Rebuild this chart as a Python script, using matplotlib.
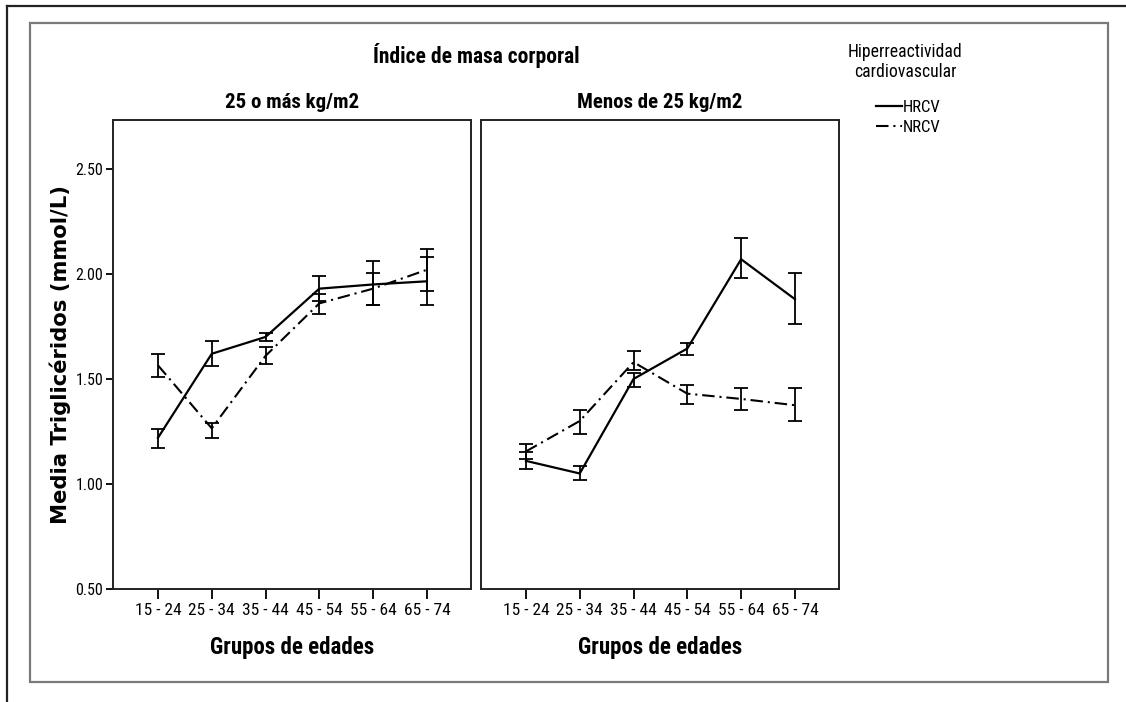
import matplotlib
matplotlib.use("Agg")
import matplotlib.pyplot as plt
from matplotlib import font_manager
from matplotlib.lines import Line2D
from matplotlib.patches import Rectangle

# ---------------- data ----------------
age_groups = ["15 - 24", "25 - 34", "35 - 44", "45 - 54", "55 - 64", "65 - 74"]
panels = ["25 o más kg/m2", "Menos de 25 kg/m2"]
series = ["HRCV", "NRCV"]

# panel 1: 25 o más kg/m2
p1_hrcv_mean = [1.22, 1.62, 1.70, 1.93, 1.95, 1.965]
p1_hrcv_lo = [1.17, 1.56, 1.68, 1.87, 1.85, 1.85]
p1_hrcv_hi = [1.26, 1.68, 1.72, 1.99, 2.06, 2.08]
p1_nrcv_mean = [1.565, 1.265, 1.61, 1.86, 1.93, 2.02]
p1_nrcv_lo = [1.51, 1.22, 1.57, 1.81, 1.85, 1.92]
p1_nrcv_hi = [1.62, 1.29, 1.65, 1.905, 2.005, 2.12]

# panel 2: Menos de 25 kg/m2
p2_hrcv_mean = [1.11, 1.05, 1.50, 1.645, 2.07, 1.88]
p2_hrcv_lo = [1.07, 1.02, 1.46, 1.615, 1.98, 1.76]
p2_hrcv_hi = [1.15, 1.085, 1.53, 1.67, 2.17, 2.005]
p2_nrcv_mean = [1.155, 1.30, 1.58, 1.43, 1.405, 1.375]
p2_nrcv_lo = [1.12, 1.24, 1.545, 1.38, 1.35, 1.30]
p2_nrcv_hi = [1.19, 1.35, 1.635, 1.47, 1.457, 1.457]

y_ticks = [0.50, 1.00, 1.50, 2.00, 2.50]

# ---------------- fonts ----------------
avail = {f.name for f in font_manager.fontManager.ttflist}
narrow = "Roboto"
for cand in ["Liberation Sans Narrow", "DejaVu Sans Condensed", "Roboto Condensed", "Roboto"]:
    if cand in avail:
        narrow = cand
        break
NARROW = [narrow, "DejaVu Sans"]
plt.rcParams["font.family"] = NARROW
plt.rcParams["lines.scale_dashes"] = False

W, H = 1126, 702
fig = plt.figure(figsize=(W / 100, H / 100), dpi=100)
fig.patch.set_facecolor("white")

# frames
fig.add_artist(Rectangle((30 / W, 1 - 682 / H), (1108 - 30) / W, (682 - 23) / H,
                         transform=fig.transFigure, fill=False, ec="#7a7a7a", lw=1.6))
fig.add_artist(Line2D([7 / W, 1.0], [1 - 6 / H, 1 - 6 / H], transform=fig.transFigure,
                      color="#222222", lw=1.6))
fig.add_artist(Line2D([7 / W, 7 / W], [0, 1 - 6 / H], transform=fig.transFigure,
                      color="#222222", lw=1.6))

ax_bottom = 1 - 589 / H
ax_height = (589 - 120) / H
ax_w = (471 - 113) / W
ax1 = fig.add_axes([113 / W, ax_bottom, ax_w, ax_height])
ax2 = fig.add_axes([481 / W, ax_bottom, ax_w, ax_height])

data = [
    (p1_hrcv_mean, p1_hrcv_lo, p1_hrcv_hi, p1_nrcv_mean, p1_nrcv_lo, p1_nrcv_hi),
    (p2_hrcv_mean, p2_hrcv_lo, p2_hrcv_hi, p2_nrcv_mean, p2_nrcv_lo, p2_nrcv_hi),
]
x = list(range(len(age_groups)))
dash = (0, (9, 3.5, 1.5, 3.5))
for ax, title, d in zip([ax1, ax2], panels, data):
    hm, hl, hh, nm, nl, nh = d
    h_err = [[m - l for m, l in zip(hm, hl)], [h - m for m, h in zip(hm, hh)]]
    n_err = [[m - l for m, l in zip(nm, nl)], [h - m for m, h in zip(nm, nh)]]
    ax.errorbar(x, nm, yerr=n_err, color="black", lw=1.5, ls=dash, capsize=5,
                elinewidth=1.3, capthick=1.3)
    ax.errorbar(x, hm, yerr=h_err, color="black", lw=1.6, ls="-", capsize=5,
                elinewidth=1.3, capthick=1.3)
    ax.set_xlim(-0.836, 5.82)
    ax.set_ylim(0.5, 2.733)
    ax.set_xticks(x)
    ax.set_xticklabels(age_groups, fontsize=12.5, family=NARROW)
    ax.tick_params(axis="x", direction="out", length=7, width=1.3, pad=3)
    for s in ax.spines.values():
        s.set_linewidth(1.4)
        s.set_color("#222222")
    ax.set_title(title, fontsize=15, fontweight="bold", family=NARROW, pad=9)
    ax.set_xlabel("Grupos de edades", fontsize=16.5, fontweight="bold", family=NARROW,
                  labelpad=13)

ax1.set_yticks(y_ticks)
ax1.set_yticklabels([f"{v:.2f}" for v in y_ticks], fontsize=11.5, family=NARROW)
ax1.tick_params(axis="y", direction="out", length=5, width=1.3, pad=2)
ax1.set_ylabel("Media Triglicéridos (mmol/L)", fontsize=15.2, fontweight="bold",
               family=["DejaVu Sans"], labelpad=3)
ax2.set_yticks([])

fig.text(476 / W, 1 - 55 / H, "Índice de masa corporal", ha="center", va="center",
         fontsize=15.5, fontweight="bold", family=NARROW)

fig.text(905 / W, 1 - 62 / H, "Hiperreactividad\ncardiovascular", ha="center",
         va="center", fontsize=12.7, family=NARROW, linespacing=1.2)

legend_handles = [Line2D([], [], color="black", lw=1.6, ls="-"),
                  Line2D([], [], color="black", lw=1.5, ls=dash)]
leg = fig.legend(legend_handles, series, loc="upper left",
                 bbox_to_anchor=(864 / W, 1 - 88 / H), frameon=False,
                 fontsize=12, handlelength=1.55, handletextpad=0.1,
                 labelspacing=0.3, borderpad=0.2)

fig.savefig("out.png", dpi=100, facecolor="white")
